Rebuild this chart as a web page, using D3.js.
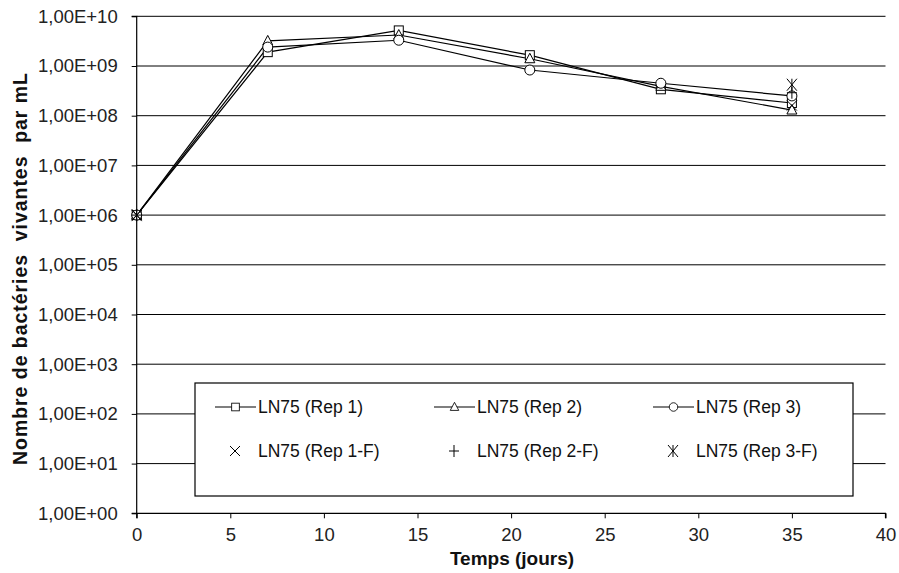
<!DOCTYPE html>
<html>
<head>
<meta charset="utf-8">
<script src="https://cdn.jsdelivr.net/npm/d3@7/dist/d3.min.js"></script>
<style>
  body { margin: 0; background: #fff; }
  svg { display: block; font-family: "Liberation Sans", Arial, sans-serif; }
</style>
</head>
<body>
<svg id="chart" width="899" height="573"></svg>
<script>
// Growth of LN75 (viable bacteria per mL) over time, three replicates + three "F" replicates
const days = [0, 7, 14, 21, 28, 35];
const rep1 = [1.0e6, 1.9e9, 5.2e9, 1.65e9, 3.4e8, 1.8e8];
const rep2 = [1.0e6, 3.2e9, 4.2e9, 1.4e9, 3.9e8, 1.3e8];
const rep3 = [1.0e6, 2.4e9, 3.3e9, 8.3e8, 4.5e8, 2.5e8];
const fDays = [0, 35];
const rep1F = [1.0e6, 1.6e8];
const rep2F = [1.0e6, 2.9e8];
const rep3F = [1.0e6, 4.2e8];
const xTicks = [0, 5, 10, 15, 20, 25, 30, 35, 40];
const yTicks = [1e0, 1e1, 1e2, 1e3, 1e4, 1e5, 1e6, 1e7, 1e8, 1e9, 1e10];
const legendLabels = ["LN75 (Rep 1)", "LN75 (Rep 2)", "LN75 (Rep 3)",
                      "LN75 (Rep 1-F)", "LN75 (Rep 2-F)", "LN75 (Rep 3-F)"];

const svg = d3.select("#chart");
const plotL = 136.7, plotR = 885.5, plotT = 16.3, plotB = 513.3;

const x = d3.scaleLinear().domain([0, 40]).range([plotL, plotR]);
const y = d3.scaleLog().domain([1, 1e10]).range([plotB, plotT]);

const fmtExp = v => {
  const e = Math.round(Math.log10(v));
  return "1,00E+" + String(e).padStart(2, "0");
};

// horizontal gridlines
svg.append("g").selectAll("line").data(yTicks.slice(1)).join("line")
  .attr("x1", plotL).attr("x2", plotR)
  .attr("y1", d => y(d)).attr("y2", d => y(d))
  .attr("stroke", "#000").attr("stroke-width", 1);

// axes
const yAxis = d3.axisLeft(y).tickValues(yTicks).tickFormat(fmtExp).tickSize(5).tickPadding(14);
const xAxis = d3.axisBottom(x).tickValues(xTicks).tickFormat(d3.format("d")).tickSize(5).tickPadding(10);

const gy = svg.append("g").attr("transform", `translate(${plotL},0)`).call(yAxis);
const gx = svg.append("g").attr("transform", `translate(0,${plotB})`).call(xAxis);
[gy, gx].forEach(g => {
  g.select(".domain").attr("stroke", "#000").attr("stroke-width", 1.2);
  g.selectAll(".tick line").attr("stroke", "#000");
  g.selectAll("text").attr("fill", "#222").attr("font-size", 18.5)
    .attr("font-family", "'Liberation Sans', Arial, sans-serif");
});
gy.select(".domain").attr("d", `M-5,${plotB}H0V${plotT}H-5`);
gx.select(".domain").attr("d", `M${plotL},5V0H${plotR}V5`);

// axis titles
svg.append("text")
  .attr("transform", `translate(27,269) rotate(-90)`)
  .attr("text-anchor", "middle").attr("font-size", 19.5).attr("font-weight", "bold")
  .attr("fill", "#111")
  .style("white-space", "pre")
  .attr("textLength", 392).attr("lengthAdjust", "spacing")
  .text("Nombre de bactéries  vivantes  par mL");
svg.append("text")
  .attr("x", 512).attr("y", 565).attr("text-anchor", "middle")
  .attr("font-size", 19).attr("font-weight", "bold").attr("fill", "#111")
  .text("Temps (jours)");

// marker drawing helpers
const markerFns = {
  square: (g, cx, cy) => g.append("rect").attr("x", cx - 4.5).attr("y", cy - 4.5)
    .attr("width", 9).attr("height", 9).attr("fill", "#fff").attr("stroke", "#000").attr("stroke-width", 1),
  triangle: (g, cx, cy) => g.append("path")
    .attr("d", `M${cx},${cy - 5.5}L${cx + 5},${cy + 4}L${cx - 5},${cy + 4}Z`)
    .attr("fill", "#fff").attr("stroke", "#000").attr("stroke-width", 1),
  circle: (g, cx, cy) => g.append("circle").attr("cx", cx).attr("cy", cy).attr("r", 5)
    .attr("fill", "#fff").attr("stroke", "#000").attr("stroke-width", 1),
  cross: (g, cx, cy) => g.append("path")
    .attr("d", `M${cx - 5},${cy - 5}L${cx + 5},${cy + 5}M${cx - 5},${cy + 5}L${cx + 5},${cy - 5}`)
    .attr("stroke", "#000").attr("stroke-width", 1),
  plus: (g, cx, cy) => g.append("path")
    .attr("d", `M${cx - 5},${cy}L${cx + 5},${cy}M${cx},${cy - 6}L${cx},${cy + 6}`)
    .attr("stroke", "#000").attr("stroke-width", 1),
  star: (g, cx, cy) => g.append("path")
    .attr("d", `M${cx - 5},${cy - 6}L${cx + 5},${cy + 6}M${cx - 5},${cy + 6}L${cx + 5},${cy - 6}M${cx},${cy - 6}L${cx},${cy + 6}`)
    .attr("stroke", "#000").attr("stroke-width", 1)
};

const lineSeries = [
  { values: rep1, marker: "square" },
  { values: rep2, marker: "triangle" },
  { values: rep3, marker: "circle" }
];
const pointSeries = [
  { values: rep1F, marker: "cross" },
  { values: rep2F, marker: "plus" },
  { values: rep3F, marker: "star" }
];

const line = d3.line().x(d => x(d[0])).y(d => y(d[1]));
const plot = svg.append("g");

lineSeries.forEach(s => {
  const pts = days.map((d, i) => [d, s.values[i]]);
  plot.append("path").datum(pts).attr("d", line)
    .attr("fill", "none").attr("stroke", "#000").attr("stroke-width", 1.2);
});
lineSeries.forEach(s => {
  days.forEach((d, i) => markerFns[s.marker](plot, x(d), y(s.values[i])));
});
pointSeries.forEach(s => {
  fDays.forEach((d, i) => markerFns[s.marker](plot, x(d), y(s.values[i])));
});

// legend
const lg = svg.append("g");
lg.append("rect").attr("x", 195).attr("y", 383).attr("width", 658).attr("height", 113)
  .attr("fill", "#fff").attr("stroke", "#000").attr("stroke-width", 1.2);
const colX = [215, 434, 653];
const rowY = [407, 451];
const allMarkers = ["square", "triangle", "circle", "cross", "plus", "star"];
legendLabels.forEach((lab, i) => {
  const col = i % 3, row = Math.floor(i / 3);
  const x0 = colX[col], cy = rowY[row];
  if (row === 0) {
    lg.append("line").attr("x1", x0).attr("x2", x0 + 41).attr("y1", cy).attr("y2", cy)
      .attr("stroke", "#000").attr("stroke-width", 1.2);
    const g = lg.append("g").attr("transform", `translate(${x0 + 20.5},${cy}) scale(0.85)`);
    markerFns[allMarkers[i]](g, 0, 0);
  } else {
    markerFns[allMarkers[i]](lg, x0 + 20, cy);
  }
  lg.append("text").attr("x", x0 + 43).attr("y", cy + 6)
    .attr("font-size", 17.5).attr("fill", "#111").text(lab);
});
</script>
</body>
</html>
